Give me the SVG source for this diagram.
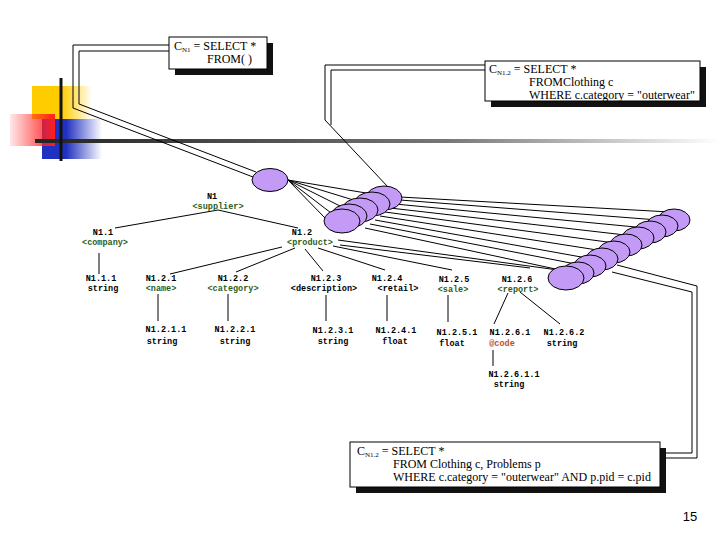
<svg xmlns="http://www.w3.org/2000/svg" width="720" height="540" viewBox="0 0 720 540">
<style>
.t{font-family:"Liberation Mono",monospace;font-size:8.5px;font-weight:bold;text-anchor:middle;fill:#000}
.g{fill:#2e5e1e}.o{fill:#c0501e}
.q{font-family:"Liberation Serif",serif;font-size:12px;fill:#000}
.s{font-size:7px}
.e{fill:#c39af5;stroke:#000;stroke-width:1}
.l{stroke:#000;stroke-width:1;fill:none}
</style>
<defs>
<linearGradient id="gy" x1="0" x2="1"><stop offset="0.5" stop-color="#ffcc00"/><stop offset="1" stop-color="#ffcc00" stop-opacity="0"/></linearGradient>
<linearGradient id="gr" x1="1" x2="0"><stop offset="0" stop-color="#ff2020"/><stop offset="1" stop-color="#ff2020" stop-opacity="0.1"/></linearGradient>
<linearGradient id="gb" x1="0" x2="1"><stop offset="0.4" stop-color="#2030c0"/><stop offset="1" stop-color="#2030c0" stop-opacity="0"/></linearGradient>
<linearGradient id="gl" x1="0" x2="1"><stop offset="0" stop-color="#222"/><stop offset="0.6" stop-color="#777"/><stop offset="1" stop-color="#fff"/></linearGradient>
</defs>
<g id="logo">
<rect x="32" y="86" width="60" height="33" fill="url(#gy)"/>
<rect x="42" y="119" width="60" height="40" fill="url(#gb)"/>
<rect x="10" y="114" width="45" height="32" fill="url(#gr)"/>
<rect x="35" y="139" width="685" height="4" fill="url(#gl)"/>
<line x1="61" y1="78" x2="61" y2="161" stroke="#111" stroke-width="3"/>
</g>
<g id="connectors" class="l">
<path d="M170,45 H73 V108 L253,177"/><path d="M170,51 H79 V104 L256,172"/>
<path d="M485,65 H325 V120 L388,187"/><path d="M485,70 H331 V125"/>
<path d="M660,453 H692 V292 L612,272"/><path d="M664,458 H697 V286 L617,265"/>
<line x1="288" y1="180" x2="372" y2="194"/><line x1="288" y1="180" x2="360" y2="202"/><line x1="288" y1="180" x2="348" y2="210"/><line x1="288" y1="180" x2="335" y2="216"/><line x1="288" y1="180" x2="325" y2="218"/>
<line x1="400" y1="197" x2="670" y2="212"/><line x1="400" y1="200" x2="658" y2="220"/><line x1="395" y1="204" x2="646" y2="228"/><line x1="390" y1="208" x2="634" y2="236"/><line x1="385" y1="212" x2="622" y2="244"/><line x1="380" y1="216" x2="610" y2="252"/><line x1="375" y1="220" x2="598" y2="260"/><line x1="370" y1="224" x2="586" y2="266"/><line x1="365" y1="228" x2="574" y2="273"/>
<line x1="338" y1="240" x2="558" y2="270"/><line x1="340" y1="245" x2="530" y2="268"/>
<line x1="218" y1="210" x2="115" y2="228"/><line x1="218" y1="210" x2="298" y2="228"/>
<line x1="99" y1="253" x2="99" y2="274"/>
<line x1="282" y1="247" x2="170" y2="274"/><line x1="295" y1="248" x2="236" y2="272"/><line x1="305" y1="249" x2="323" y2="271"/><line x1="318" y1="248" x2="385" y2="270"/><line x1="333" y1="246" x2="452" y2="270"/>
<line x1="158" y1="294" x2="158" y2="321"/><line x1="228" y1="294" x2="228" y2="321"/><line x1="326" y1="295" x2="326" y2="321"/><line x1="387" y1="295" x2="387" y2="321"/><line x1="448" y1="295" x2="448" y2="322"/>
<line x1="508" y1="293" x2="494" y2="324"/><line x1="520" y1="292" x2="560" y2="324"/><line x1="493" y1="350" x2="493" y2="366"/>
</g>
<g id="ellipses">
<ellipse class="e" cx="270" cy="180" rx="18" ry="11.5"/>
<ellipse class="e" cx="384" cy="198" rx="18" ry="12"/><ellipse class="e" cx="372" cy="204" rx="18" ry="12"/><ellipse class="e" cx="360" cy="210" rx="18" ry="12"/><ellipse class="e" cx="349" cy="216" rx="18" ry="12"/><ellipse class="e" cx="342" cy="221" rx="18" ry="12"/>
<ellipse class="e" cx="674" cy="220" rx="16" ry="11"/><ellipse class="e" cx="662" cy="226" rx="16" ry="11"/><ellipse class="e" cx="650" cy="232" rx="16" ry="11"/><ellipse class="e" cx="638" cy="238" rx="16" ry="11"/><ellipse class="e" cx="626" cy="245" rx="16" ry="11"/><ellipse class="e" cx="614" cy="252" rx="16" ry="11"/><ellipse class="e" cx="602" cy="259" rx="16" ry="11"/><ellipse class="e" cx="590" cy="266" rx="16" ry="11"/><ellipse class="e" cx="578" cy="273" rx="16" ry="11"/><ellipse class="e" cx="566" cy="278" rx="18" ry="12"/>
</g>
<g id="q1"><rect x="175" y="43" width="98" height="32" fill="#111"/><rect x="169" y="37" width="98" height="32" fill="#fff" stroke="#000"/>
<text class="q" x="174" y="50">C<tspan class="s" dy="2">N1</tspan><tspan dy="-2"> =  SELECT *</tspan></text><text class="q" x="207" y="63">FROM( )</text></g>
<g id="q2"><rect x="491" y="67" width="215" height="40" fill="#111"/><rect x="485" y="61" width="215" height="40" fill="#fff" stroke="#000"/>
<text class="q" x="489" y="73">C<tspan class="s" dy="2">N1.2</tspan><tspan dy="-2"> = SELECT *</tspan></text><text class="q" x="529" y="86">FROMClothing c</text><text class="q" x="529" y="99">WHERE c.category = "outerwear"</text></g>
<g id="q3"><rect x="356" y="448" width="310" height="45" fill="#111"/><rect x="350" y="442" width="310" height="45" fill="#fff" stroke="#000"/>
<text class="q" x="357" y="455">C<tspan class="s" dy="2">N1.2</tspan><tspan dy="-2"> = SELECT *</tspan></text><text class="q" x="393" y="468">FROM Clothing c, Problems p</text><text class="q" x="393" y="481">WHERE c.category = "outerwear" AND p.pid = c.pid</text></g>
<g id="tree">
<text class="t" x="212" y="199">N1</text><text class="t g" x="218" y="209">&lt;supplier&gt;</text>
<text class="t" x="103" y="235">N1.1</text><text class="t g" x="105" y="245">&lt;company&gt;</text>
<text class="t" x="302" y="235">N1.2</text><text class="t g" x="310" y="245">&lt;product&gt;</text>
<text class="t" x="101" y="281">N1.1.1</text><text class="t" x="103" y="291">string</text>
<text class="t" x="161" y="281">N1.2.1</text><text class="t g" x="161" y="291">&lt;name&gt;</text>
<text class="t" x="233" y="281">N1.2.2</text><text class="t g" x="233" y="291">&lt;category&gt;</text>
<text class="t" x="326" y="281">N1.2.3</text><text class="t" x="324" y="291">&lt;description&gt;</text>
<text class="t" x="387" y="281">N1.2.4</text><text class="t" x="398" y="291">&lt;retail&gt;</text>
<text class="t" x="454" y="282">N1.2.5</text><text class="t g" x="453" y="292">&lt;sale&gt;</text>
<text class="t" x="517" y="282">N1.2.6</text><text class="t g" x="518" y="292">&lt;report&gt;</text>
<text class="t" x="166" y="332">N1.2.1.1</text><text class="t" x="162" y="344">string</text>
<text class="t" x="235" y="332">N1.2.2.1</text><text class="t" x="235" y="344">string</text>
<text class="t" x="333" y="333">N1.2.3.1</text><text class="t" x="333" y="344">string</text>
<text class="t" x="396" y="333">N1.2.4.1</text><text class="t" x="395" y="344">float</text>
<text class="t" x="457" y="335">N1.2.5.1</text><text class="t" x="452" y="346">float</text>
<text class="t" x="510" y="335">N1.2.6.1</text><text class="t o" x="502" y="346">@code</text>
<text class="t" x="564" y="335">N1.2.6.2</text><text class="t" x="562" y="346">string</text>
<text class="t" x="514" y="377">N1.2.6.1.1</text><text class="t" x="509" y="387">string</text>
</g>
<text x="690" y="521" font-family="Liberation Sans,sans-serif" font-size="13" text-anchor="middle">15</text>
</svg>
